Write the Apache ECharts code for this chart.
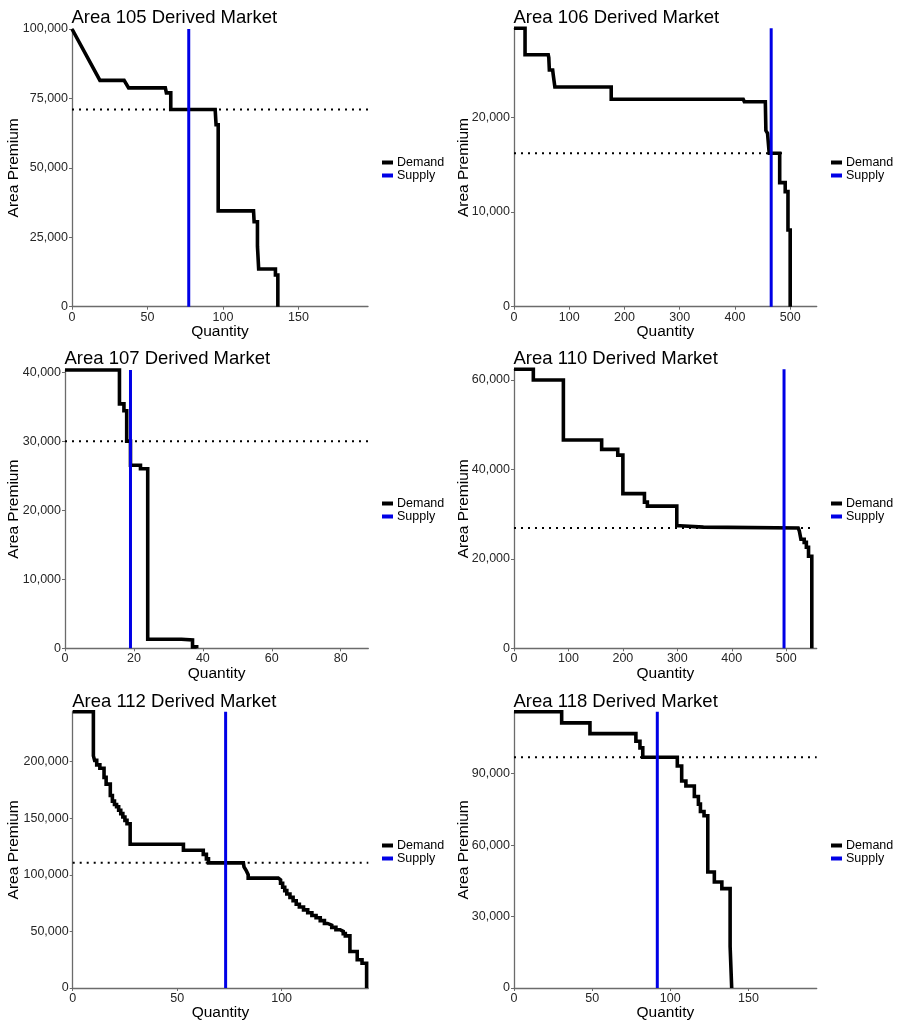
<!DOCTYPE html>
<html>
<head>
<meta charset="utf-8">
<script src="https://cdn.jsdelivr.net/npm/echarts@6/dist/echarts.min.js"></script>
<style>
  html, body { margin: 0; padding: 0; background: #fff; }
  #chart { width: 898px; height: 1022px; }
</style>
</head>
<body>
<div id="chart"></div>
<script>
// Demand curves as [quantity, premium] vertices; supply as a fixed quantity;
// clearing premium drawn as a dotted horizontal line.

// ---- Area 105 ----
const demand105 = [[0,100000],[18.5,81500],[34.5,81500],[37.5,78800],[61.8,78800],[62.5,77000],[65.4,77000],[65.4,71000],[94.8,71000],[95.4,65500],[96.8,65500],[96.8,34500],[120.2,34500],[120.6,30600],[122.8,30600],[122.8,21800],[123.6,21800],[123.6,13600],[134.7,13600],[134.7,11400],[136.3,11400],[136.3,0]];
const supply105 = 77.3;
const price105 = 71000;
const priceEnd105 = 196;
const xTicks105 = [0, 50, 100, 150];
const yTicks105 = [0, 25000, 50000, 75000, 100000];
const xMax105 = 196;
const yMax105 = 100000;

// ---- Area 106 ----
const demand106 = [[0,29400],[20,29400],[20,26600],[62,26600],[63,26300],[64,25000],[70,25000],[71,24500],[73,24500],[74,23200],[176,23200],[176,21900],[415,21900],[417,21650],[455,21650],[456,18600],[459,18300],[462,18300],[462,16200],[481,16200],[481,13100],[491,13100],[491,12150],[496,12150],[496,8100],[500,8100],[500,0]];
const supply106 = 465.6;
const price106 = 16200;
const priceEnd106 = 488;
const xTicks106 = [0, 100, 200, 300, 400, 500];
const yTicks106 = [0, 10000, 20000];
const xMax106 = 548;
const yMax106 = 29400;

// ---- Area 107 ----
const demand107 = [[0,40300],[15.8,40300],[15.8,35400],[17.1,35400],[17.1,34400],[17.9,34400],[17.9,30000],[19,30000],[19,26500],[21.9,26500],[21.9,26000],[24,26000],[24,1300],[33.8,1300],[33.8,1200],[37,1200],[37,200],[38.2,200],[38.2,0]];
const supply107 = 19.0;
const price107 = 30000;
const priceEnd107 = 88;
const xTicks107 = [0, 20, 40, 60, 80];
const yTicks107 = [0, 10000, 20000, 30000, 40000];
const xMax107 = 88;
const yMax107 = 40300;

// ---- Area 110 ----
const demand110 = [[0,62400],[35.5,62400],[35.5,60000],[90.7,60000],[90.7,46600],[161,46600],[161,44500],[190.6,44500],[190.6,43200],[200,43200],[200,34600],[239.6,34600],[239.6,32700],[245,32700],[245,31800],[299,31800],[299,27400],[305,27400],[305,27100],[348,27100],[350,26900],[522,26900],[524,26300],[527,26300],[527,24400],[533,24400],[533,23700],[537,23700],[537,22600],[541,22600],[541,20600],[547,20600],[547,0]];
const supply110 = 496;
const price110 = 26900;
const priceEnd110 = 547;
const xTicks110 = [0, 100, 200, 300, 400, 500];
const yTicks110 = [0, 20000, 40000, 60000];
const xMax110 = 556;
const yMax110 = 62400;

// ---- Area 112 ----
const demand112 = [[0,244000],[9.9,244000],[9.9,205000],[10.5,205000],[10.5,201000],[11.5,201000],[11.5,197000],[13,197000],[13,194000],[15,194000],[15,186000],[16,186000],[16,180000],[18,180000],[18,170000],[19,170000],[19,165000],[20,165000],[20,162000],[21,162000],[21,160000],[22,160000],[22,157000],[23,157000],[23,154000],[24,154000],[24,151000],[25,151000],[25,148000],[26,148000],[26,145000],[27.5,145000],[27.5,127000],[53,127000],[53,121600],[62.5,121600],[62.5,118000],[64,118000],[64,114000],[65,114000],[65,110500],[81.7,110500],[82,107000],[83,104000],[84,100000],[84,97000],[98.4,97000],[98.4,95500],[99.5,95500],[99.5,92500],[100.5,92500],[100.5,89000],[101.5,89000],[101.5,86000],[102.5,86000],[102.5,83000],[104,83000],[104,80000],[105.5,80000],[105.5,77000],[107,77000],[107,74000],[108.5,74000],[108.5,71500],[110.5,71500],[110.5,69000],[112.5,69000],[112.5,66500],[114.5,66500],[114.5,64000],[116.5,64000],[116.5,62000],[118.5,62000],[118.5,59500],[120.5,59500],[120.5,57000],[122,57000],[122,55500],[124,55500],[124,53500],[126,53500],[126,51500],[128,51500],[128,50000],[129.5,50000],[129.5,48000],[130.5,48000],[130.5,46000],[132.7,46000],[132.7,32200],[136.2,32200],[136.2,24900],[138.5,24900],[138.5,21900],[140.7,21900],[140.7,0]];
const supply112 = 73.2;
const price112 = 110500;
const priceEnd112 = 141.5;
const xTicks112 = [0, 50, 100];
const yTicks112 = [0, 50000, 100000, 150000, 200000];
const xMax112 = 141.5;
const yMax112 = 244000;

// ---- Area 118 ----
const demand118 = [[0,116000],[30.5,116000],[30.5,111300],[48.6,111300],[48.6,106800],[78,106800],[78,103600],[80.6,103600],[80.6,100800],[82.4,100800],[82.4,96900],[104.5,96900],[104.5,93200],[107.3,93200],[107.3,86900],[110,86900],[110,84800],[115.4,84800],[115.4,80400],[118,80400],[118,77200],[119.3,77200],[119.3,74100],[121.6,74100],[121.6,72300],[124,72300],[124,48700],[128.2,48700],[128.2,44500],[133,44500],[133,41700],[138.3,41700],[138.3,17400],[139.3,17400],[139.3,0]];
const supply118 = 91.7;
const price118 = 96900;
const priceEnd118 = 193.7;
const xTicks118 = [0, 50, 100, 150];
const yTicks118 = [0, 30000, 60000, 90000];
const xMax118 = 193.7;
const yMax118 = 116000;

const areaNames = ['Area 105 Derived Market', 'Area 106 Derived Market', 'Area 107 Derived Market',
                   'Area 110 Derived Market', 'Area 112 Derived Market', 'Area 118 Derived Market'];

// Panel placement on the page (grid boxes in px) and legend anchors
const layout = [
  { left: 72,   top: 29,    width: 296,   height: 277.7, legendLeft: 382, legendTop: 156, titleTop: 8 },
  { left: 514,  top: 28.3,  width: 302.7, height: 278.4, legendLeft: 831, legendTop: 156, titleTop: 8 },
  { left: 65,   top: 370,   width: 303.3, height: 278.3, legendLeft: 382, legendTop: 497, titleTop: 349 },
  { left: 514,  top: 369.3, width: 302.7, height: 279,   legendLeft: 831, legendTop: 497, titleTop: 349 },
  { left: 72.7, top: 711.7, width: 295.6, height: 278.3, legendLeft: 382, legendTop: 839, titleTop: 692 },
  { left: 514,  top: 711.7, width: 302.7, height: 278.3, legendLeft: 831, legendTop: 839, titleTop: 692 }
];

const panels = [
  { demand: demand105, supply: supply105, price: price105, priceEnd: priceEnd105, xTicks: xTicks105, yTicks: yTicks105, xMax: xMax105, yMax: yMax105 },
  { demand: demand106, supply: supply106, price: price106, priceEnd: priceEnd106, xTicks: xTicks106, yTicks: yTicks106, xMax: xMax106, yMax: yMax106 },
  { demand: demand107, supply: supply107, price: price107, priceEnd: priceEnd107, xTicks: xTicks107, yTicks: yTicks107, xMax: xMax107, yMax: yMax107 },
  { demand: demand110, supply: supply110, price: price110, priceEnd: priceEnd110, xTicks: xTicks110, yTicks: yTicks110, xMax: xMax110, yMax: yMax110 },
  { demand: demand112, supply: supply112, price: price112, priceEnd: priceEnd112, xTicks: xTicks112, yTicks: yTicks112, xMax: xMax112, yMax: yMax112 },
  { demand: demand118, supply: supply118, price: price118, priceEnd: priceEnd118, xTicks: xTicks118, yTicks: yTicks118, xMax: xMax118, yMax: yMax118 }
];

const FONT = 'Liberation Sans, Arial, sans-serif';
const AXIS_COLOR = '#6b6b6b';
const SUPPLY_COLOR = '#0000e6';
const yNameCenter = [13.5, 463.5, 13.5, 463.5, 13.5, 463.5];

const option = {
  animation: false,
  backgroundColor: '#fff',
  title: [], grid: [], xAxis: [], yAxis: [], legend: [], series: []
};

panels.forEach((p, i) => {
  const L = layout[i];
  option.title.push({
    text: areaNames[i], left: L.left - 0.5, top: L.titleTop, padding: 0,
    textStyle: { fontFamily: FONT, fontSize: 18.5, fontWeight: 'normal', color: '#000' }
  });
  option.grid.push({ left: L.left, top: L.top, width: L.width, height: L.height, containLabel: false });
  option.xAxis.push({
    type: 'value', gridIndex: i, min: 0, max: p.xMax,
    name: 'Quantity', nameLocation: 'middle', nameGap: 17, nameMoveOverlap: false,
    nameTextStyle: { fontFamily: FONT, fontSize: 15.5, color: '#000' },
    axisLine: { show: true, onZero: false, lineStyle: { color: AXIS_COLOR, width: 1.3 } },
    axisTick: { show: true, length: 3, customValues: p.xTicks, lineStyle: { color: AXIS_COLOR } },
    axisLabel: { customValues: p.xTicks, margin: 4, fontFamily: FONT, fontSize: 12.5, color: '#262626',
                 formatter: v => v.toLocaleString('en-US') },
    splitLine: { show: false }
  });
  option.yAxis.push({
    type: 'value', gridIndex: i, min: 0, max: p.yMax,
    name: 'Area Premium', nameLocation: 'middle', nameGap: L.left - 8 - yNameCenter[i], nameMoveOverlap: false,
    nameTextStyle: { fontFamily: FONT, fontSize: 15.5, color: '#000' },
    axisLine: { show: true, onZero: false, lineStyle: { color: AXIS_COLOR, width: 1.3 } },
    axisTick: { show: true, length: 3, customValues: p.yTicks, lineStyle: { color: AXIS_COLOR } },
    axisLabel: { customValues: p.yTicks, margin: 4, fontFamily: FONT, fontSize: 12.5, color: '#262626',
                 formatter: v => v.toLocaleString('en-US') },
    splitLine: { show: false }
  });
  option.legend.push({
    data: ['Demand', 'Supply'], orient: 'vertical', left: L.legendLeft, top: L.legendTop,
    padding: 0, icon: 'rect', itemWidth: 11, itemHeight: 4, itemGap: 0,
    textStyle: { fontFamily: FONT, fontSize: 12.5, color: '#000', padding: [0, 0, 0, -1] },
    selectedMode: false
  });
  // clearing premium (dotted)
  option.series.push({
    name: 'Clearing', type: 'line', xAxisIndex: i, yAxisIndex: i,
    data: [[0, p.price], [p.priceEnd, p.price]],
    symbol: 'none', silent: true, clip: false,
    lineStyle: { color: '#000', width: 2, type: [2, 5] }
  });
  // demand curve
  option.series.push({
    name: 'Demand', type: 'line', xAxisIndex: i, yAxisIndex: i,
    data: p.demand, symbol: 'none', clip: false,
    itemStyle: { color: '#000' },
    lineStyle: { color: '#000', width: 3.6, join: 'miter' }
  });
  // supply (vertical)
  option.series.push({
    name: 'Supply', type: 'line', xAxisIndex: i, yAxisIndex: i,
    data: [[p.supply, 0], [p.supply, p.yMax]], symbol: 'none', clip: false,
    itemStyle: { color: SUPPLY_COLOR },
    lineStyle: { color: SUPPLY_COLOR, width: 3 }
  });
});

const chart = echarts.init(document.getElementById('chart'), null, { renderer: 'canvas' });
chart.setOption(option);
</script>
</body>
</html>
